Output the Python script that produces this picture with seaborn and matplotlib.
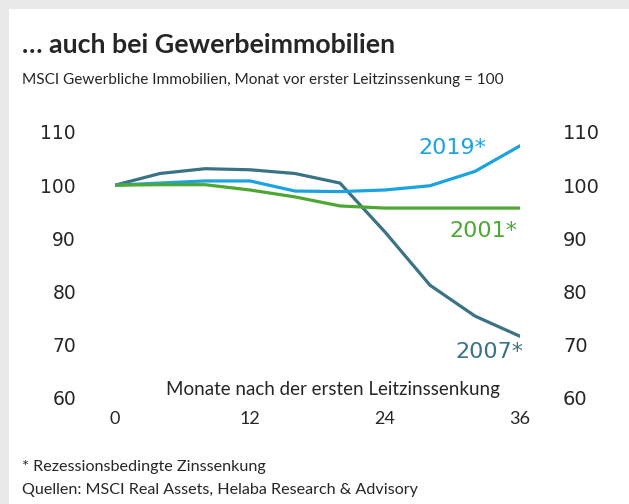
import numpy as np
import pandas as pd
import seaborn as sns
import matplotlib.pyplot as plt
from matplotlib.patches import Rectangle

# months after first rate cut, sampled every 4 months
months = [0, 4, 8, 12, 16, 20, 24, 28, 32, 36]
idx_2007 = [100.0, 102.2, 103.1, 102.9, 102.2, 100.4, 91.2, 81.2, 75.4, 71.6]
idx_2019 = [100.0, 100.4, 100.8, 100.8, 98.9, 98.8, 99.1, 99.9, 102.6, 107.4]
idx_2001 = [100.0, 100.1, 100.1, 99.1, 97.8, 96.1, 95.7, 95.7, 95.7, 95.7]
series_names = ["2007*", "2019*", "2001*"]
colors = {"2007*": "#3a7384", "2019*": "#1aa3e1", "2001*": "#4ca833"}
yticks = [60, 70, 80, 90, 100, 110]
xticks = [0, 12, 24, 36]

df = pd.DataFrame({
    "Monat": months * 3,
    "Index": idx_2007 + idx_2019 + idx_2001,
    "Serie": [s for s in series_names for _ in months],
})

sns.set_style("white")
plt.rcParams["font.family"] = ["DejaVu Sans"]
W, H = 629, 504
fig = plt.figure(figsize=(W / 100, H / 100), dpi=100)
fig.patch.set_facecolor("#e9e9e9")
fig.patches.append(Rectangle((9 / W, 0), 1, 1 - 9 / H, transform=fig.transFigure,
                             facecolor="white", edgecolor="none", zorder=-5))

# axes: x 0 -> px 115, 36 -> px 520; y 110 -> px 132, 60 -> px 398
ax = fig.add_axes([115 / W, 1 - 398 / H, 405 / W, 266 / H])
ax.set_facecolor("none")
sns.lineplot(data=df, x="Monat", y="Index", hue="Serie", palette=colors,
             linewidth=2.3, ax=ax, legend=False)
ax.set_xlim(0, 36)
ax.set_ylim(60, 110)
for s in ax.spines.values():
    s.set_visible(False)
ax.set_xticks(xticks)
ax.set_yticks(yticks)
ax.set_xlabel("")
ax.set_ylabel("")
ax.tick_params(axis="y", length=0, pad=28, labelsize=13.5)
ax.tick_params(axis="x", length=0, pad=9, labelsize=13)
for t in ax.get_xticklabels():
    t.set_family(["Lato"])

ax2 = ax.twinx()
ax2.set_ylim(60, 110)
ax2.set_yticks(yticks)
ax2.tick_params(axis="y", length=0, pad=31, labelsize=14)
for s in ax2.spines.values():
    s.set_visible(False)

ax.text(30.0, 106.9, "2019*", color=colors["2019*"], fontsize=16, ha="center", va="center")
ax.text(32.7, 91.4, "2001*", color=colors["2001*"], fontsize=16, ha="center", va="center")
ax.text(33.3, 68.7, "2007*", color=colors["2007*"], fontsize=16, ha="center", va="center")

cond = ["Lato"]
ax.text(19.4, 61.6, "Monate nach der ersten Leitzinssenkung", fontsize=13.5,
        family=cond, ha="center", va="center")
fig.text(22 / W, 1 - 45 / H, "… auch bei Gewerbeimmobilien", fontsize=19.3,
         fontweight="bold", family=cond, ha="left", va="center")
fig.text(22 / W, 1 - 80 / H, "MSCI Gewerbliche Immobilien, Monat vor erster Leitzinssenkung = 100",
         fontsize=11.1, family=cond, ha="left", va="center")
fig.text(22 / W, 1 - 467 / H, "* Rezessionsbedingte Zinssenkung", fontsize=11.6,
         family=cond, ha="left", va="center")
fig.text(22 / W, 1 - 490 / H, "Quellen: MSCI Real Assets, Helaba Research & Advisory",
         fontsize=11.6, family=cond, ha="left", va="center")

fig.savefig("out.png", dpi=100)
